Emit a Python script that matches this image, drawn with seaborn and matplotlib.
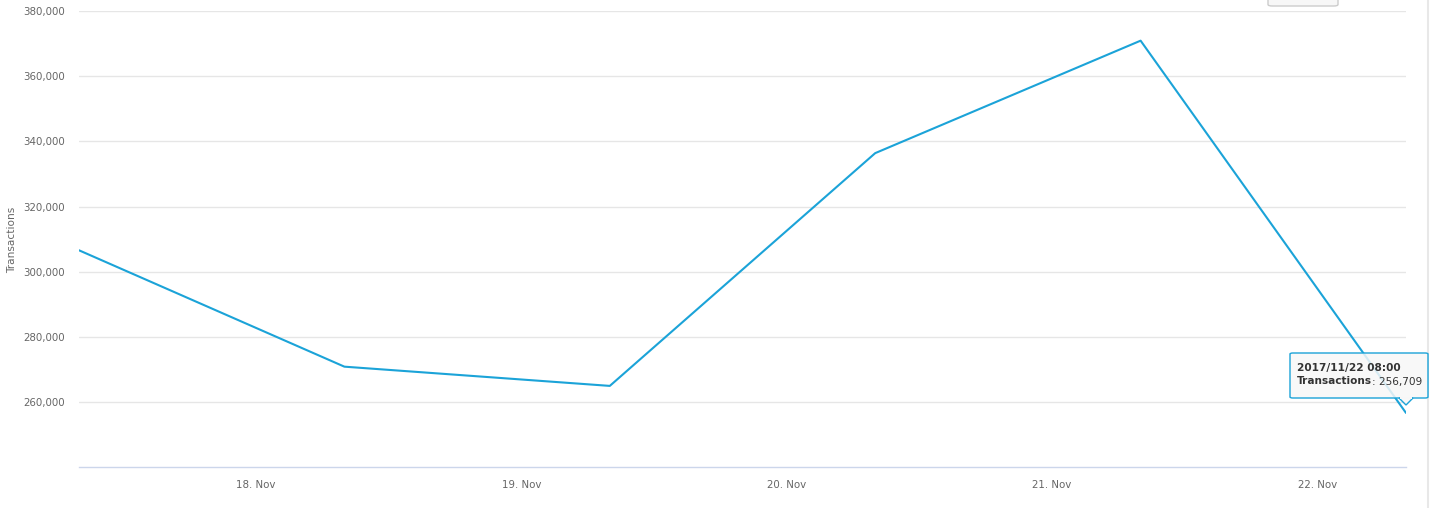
import matplotlib
matplotlib.use("Agg")
import matplotlib.pyplot as plt
import matplotlib.dates as mdates
from matplotlib.patches import FancyBboxPatch, Polygon, Rectangle
from matplotlib.ticker import FuncFormatter, FixedLocator
import seaborn as sns
import pandas as pd

# ---- data ----
dates = ["2017-11-17 08:00", "2017-11-18 08:00", "2017-11-19 08:00",
         "2017-11-20 08:00", "2017-11-21 08:00", "2017-11-22 08:00"]
transactions = [306600, 270900, 265000, 336400, 370900, 256709]
y_ticks = [260000, 280000, 300000, 320000, 340000, 360000, 380000]
x_ticks = ["2017-11-18", "2017-11-19", "2017-11-20", "2017-11-21", "2017-11-22"]
y_label = "Transactions"
tooltip_title = "2017/11/22 08:00"
tooltip_series = "Transactions"
tooltip_value = "256,709"

df = pd.DataFrame({"date": pd.to_datetime(dates), "value": transactions})

sns.set_theme(style="white")
plt.rcParams['font.family'] = ['DejaVu Sans']

W, H = 1431, 508
fig = plt.figure(figsize=(W / 100, H / 100), dpi=100)

def fx(x):
    return x / W

def fy(y):
    return 1 - y / H

ax = fig.add_axes([fx(79), fy(467.4), fx(1406) - fx(79), fy(11) - fy(467.4)])

sns.lineplot(data=df, x="date", y="value", ax=ax, color="#1ba3d8", linewidth=1.5, zorder=3)

ax.set_xlim(df["date"].iloc[0], df["date"].iloc[-1])
ax.set_ylim(240000, 380000)

ax.yaxis.set_major_locator(FixedLocator(y_ticks))
ax.yaxis.set_major_formatter(FuncFormatter(lambda v, p: f"{int(v):,}"))
ax.xaxis.set_major_locator(FixedLocator(mdates.date2num(pd.to_datetime(x_ticks))))
ax.xaxis.set_major_formatter(mdates.DateFormatter("%d. %b"))

ax.grid(axis="y", color="#e6e6e6", linewidth=1.0, zorder=0)
ax.grid(axis="x", visible=False)
for s in ["top", "right", "left"]:
    ax.spines[s].set_visible(False)
ax.spines["bottom"].set_color("#ccd6eb")
ax.spines["bottom"].set_linewidth(1.0)

ax.tick_params(axis="y", length=0, pad=10, labelsize=7.4, labelcolor="#666666")
ax.tick_params(axis="x", length=6, width=1, color="#ccd6eb", pad=3,
               labelsize=7.4, labelcolor="#666666", direction="out")
ax.set_xlabel("")
ax.set_ylabel("")
fig.text(fx(12), fy(240), y_label, rotation=90, ha="center", va="center",
         fontsize=7.6, color="#666666")

# right edge line (scroll border)
fig.add_artist(plt.Line2D([fx(1428), fx(1428)], [0, 1], transform=fig.transFigure,
                          color="#e8e8e8", linewidth=1.5))

# partial button at top
fig.add_artist(FancyBboxPatch((fx(1268), fy(6)), fx(1338) - fx(1268), fy(-10) - fy(6),
                              boxstyle="round,pad=0,rounding_size=0.003",
                              transform=fig.transFigure, facecolor="#f7f7f7",
                              edgecolor="#cccccc", linewidth=1.0))

# tooltip
box_l, box_r, box_t, box_b = 1290, 1428, 353, 398
tip = FancyBboxPatch((fx(box_l), fy(box_b)), fx(box_r) - fx(box_l), fy(box_t) - fy(box_b),
                     boxstyle="round,pad=0,rounding_size=0.002",
                     transform=fig.transFigure, facecolor=(0.97, 0.97, 0.97, 0.85),
                     edgecolor="#1ba3d8", linewidth=1.0, zorder=10)
fig.add_artist(tip)
tri = Polygon([(fx(1399), fy(398)), (fx(1413), fy(398)), (fx(1406), fy(405))],
              closed=True, transform=fig.transFigure,
              facecolor=(0.97, 0.97, 0.97, 0.85), edgecolor="#1ba3d8",
              linewidth=1.0, zorder=10)
fig.add_artist(tri)
fig.add_artist(Rectangle((fx(1399.7), fy(398.6)), fx(1412.3) - fx(1399.7), fy(397) - fy(398.6),
                         transform=fig.transFigure, facecolor=(0.97, 0.97, 0.97, 1),
                         edgecolor="none", zorder=11))
fig.text(fx(1297), fy(368), tooltip_title, ha="left", va="center", fontsize=7.6,
         fontweight="bold", color="#333333", zorder=12)
t_series = fig.text(fx(1297), fy(381.5), tooltip_series, ha="left", va="center", fontsize=7.6,
                    fontweight="bold", color="#333333", zorder=12)
renderer = fig.canvas.get_renderer()
bb = t_series.get_window_extent(renderer=renderer)
fig.text(bb.x1 / W, fy(381.5), ": " + tooltip_value, ha="left", va="center", fontsize=7.6,
         color="#333333", zorder=12)

fig.savefig("out.png", dpi=100, facecolor="white")
